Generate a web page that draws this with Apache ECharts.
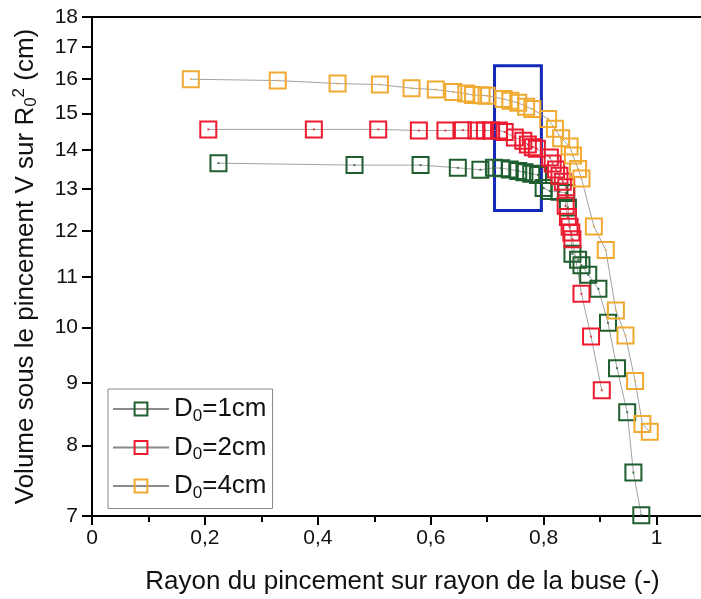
<!DOCTYPE html>
<html>
<head>
<meta charset="utf-8">
<script src="https://cdn.jsdelivr.net/npm/echarts@6/dist/echarts.min.js"></script>
<style>
  html, body { margin: 0; padding: 0; background: #fff; }
  #chart { width: 701px; height: 599px; }
</style>
</head>
<body>
<div id="chart"></div>
<script>
// values: [rayon relatif, volume]
const d1cm = [[0.224,13.65],[0.465,13.60],[0.582,13.60],[0.648,13.53],[0.688,13.48],[0.712,13.53],[0.725,13.52],[0.740,13.49],[0.755,13.45],[0.766,13.42],[0.778,13.38],[0.790,13.35],[0.800,13.02],[0.811,12.95],[0.828,12.93],[0.840,12.90],[0.843,12.55],[0.851,11.50],[0.861,11.37],[0.867,11.25],[0.879,11.05],[0.897,10.76],[0.914,10.09],[0.930,9.26],[0.948,8.52],[0.959,7.60],[0.973,7.01]];
const d2cm = [[0.206,14.55],[0.393,14.55],[0.507,14.55],[0.579,14.52],[0.626,14.52],[0.657,14.53],[0.681,14.52],[0.696,14.52],[0.707,14.52],[0.721,14.52],[0.731,14.48],[0.749,14.33],[0.764,14.24],[0.772,14.14],[0.781,14.07],[0.788,14.03],[0.811,13.80],[0.816,13.64],[0.822,13.49],[0.828,13.33],[0.834,13.18],[0.840,13.04],[0.839,12.59],[0.843,12.33],[0.846,12.10],[0.849,11.97],[0.851,11.82],[0.867,10.66],[0.884,9.83],[0.903,8.88]];
const d4cm = [[0.175,16.00],[0.329,15.96],[0.435,15.87],[0.510,15.84],[0.566,15.73],[0.609,15.69],[0.640,15.62],[0.663,15.57],[0.675,15.53],[0.690,15.52],[0.699,15.51],[0.729,15.41],[0.741,15.36],[0.755,15.30],[0.769,15.19],[0.780,15.12],[0.808,14.84],[0.820,14.57],[0.831,14.31],[0.846,14.09],[0.852,13.85],[0.861,13.50],[0.867,13.26],[0.889,12.11],[0.910,11.58],[0.928,10.33],[0.945,9.85],[0.962,9.04],[0.975,8.33],[0.988,8.21]];

const seriesNames = ['D0=1cm', 'D0=2cm', 'D0=4cm'];
const seriesColors = ['#1f5e2f', '#ec1b30', '#f0aa32'];
const xTicks = [0, 0.2, 0.4, 0.6, 0.8, 1];
const yTicks = [7, 8, 9, 10, 11, 12, 13, 14, 15, 16, 17, 18];
// zone encadrée en bleu: [x0, y0], [x1, y1]
const zoneBox = [[0.713, 16.41], [0.796, 12.48]];

const FONT = '"Liberation Sans", Arial, sans-serif';
// y axis is logarithmic in the original: plot ln(v)
const ly = v => Math.log(v);
const toLog = arr => arr.map(p => [p[0], ly(p[1])]);

const datasets = [d1cm, d2cm, d4cm];

let series = [];
datasets.forEach((data, i) => {
    series.push({
        name: seriesNames[i],
        type: 'line',
        data: toLog(data),
        symbol: 'rect',
        symbolSize: 16,
        showAllSymbol: true,
        itemStyle: {color: 'rgba(255,255,255,0)', borderColor: seriesColors[i], borderWidth: 2},
        lineStyle: {color: '#8a8a8a', width: 0.8},
        emphasis: {disabled: true},
        z: 3
    });
    // petit point au centre des carrés
    series.push({
        name: seriesNames[i] + '_pt',
        type: 'scatter',
        data: toLog(data),
        symbol: 'rect',
        symbolSize: 2,
        itemStyle: {color: seriesColors[i]},
        silent: true,
        z: 4
    });
});

// cadre bleu
series[0].markArea = {
    silent: true,
    itemStyle: {color: 'rgba(0,0,0,0)', borderColor: '#1428b8', borderWidth: 3},
    data: [[{coord: [zoneBox[0][0], ly(zoneBox[0][1])]}, {coord: [zoneBox[1][0], ly(zoneBox[1][1])]}]]
};

let chart = echarts.init(document.getElementById('chart'), null, {renderer: 'canvas'});
chart.setOption({
    animation: false,
    backgroundColor: '#fff',
    grid: {
        left: 92, top: 17, width: 621, height: 499,
        outerBoundsMode: 'none',
        containLabel: false,
        show: true, borderColor: '#000', borderWidth: 2, backgroundColor: 'rgba(0,0,0,0)'
    },
    legend: {
        data: seriesNames,
        orient: 'vertical',
        left: 108,
        top: 389,
        padding: [7, 6, 7, 4],
        itemGap: 10,
        itemWidth: 56,
        itemHeight: 16,
        borderColor: '#888',
        borderWidth: 1,
        backgroundColor: '#fff',
        formatter: name => name.replace('D0', 'D{sub|0}'),
        textStyle: {
            fontFamily: FONT, fontSize: 26, color: '#111',
            rich: {sub: {fontFamily: FONT, fontSize: 17, color: '#111', verticalAlign: 'bottom', padding: [14, 0, 0, 0]}}
        }
    },
    xAxis: {
        type: 'value',
        min: 0, max: 1.1, interval: 0.2,
        axisLine: {lineStyle: {color: '#000', width: 2}},
        axisTick: {show: true, length: 9, lineStyle: {color: '#000', width: 2}},
        minorTick: {show: true, splitNumber: 2, length: 6, lineStyle: {color: '#000', width: 2}},
        splitLine: {show: false},
        axisLabel: {
            fontFamily: FONT, fontSize: 21, color: '#111', margin: 12,
            formatter: v => String(+v.toFixed(1)).replace('.', ','),
            customValues: xTicks
        },
        name: 'Rayon du pincement sur rayon de la buse (-)',
        nameLocation: 'middle',
        nameGap: 53,
        nameTextStyle: {fontFamily: FONT, fontSize: 26, color: '#111'}
    },
    yAxis: {
        type: 'value',
        min: ly(7), max: ly(18),
        axisLine: {show: true, lineStyle: {color: '#000', width: 2}},
        axisTick: {show: true, length: 10, lineStyle: {color: '#000', width: 2}, customValues: yTicks.map(ly)},
        splitLine: {show: false},
        axisLabel: {
            fontFamily: FONT, fontSize: 21, color: '#111', margin: 14,
            customValues: yTicks.map(ly),
            formatter: v => String(Math.round(Math.exp(v)))
        },
        name: 'Volume sous le pincement V sur R{sub|0}{sup|2} (cm)',
        nameLocation: 'middle',
        nameRotate: 90,
        nameGap: 52,
        nameTextStyle: {
            fontFamily: FONT, fontSize: 26, color: '#111',
            rich: {
                sub: {fontFamily: FONT, fontSize: 17, color: '#111', verticalAlign: 'bottom', padding: [12, 0, 0, 0]},
                sup: {fontFamily: FONT, fontSize: 17, color: '#111', verticalAlign: 'top', padding: [0, 0, 12, 0]}
            }
        }
    },
    series: series
});
</script>
</body>
</html>
